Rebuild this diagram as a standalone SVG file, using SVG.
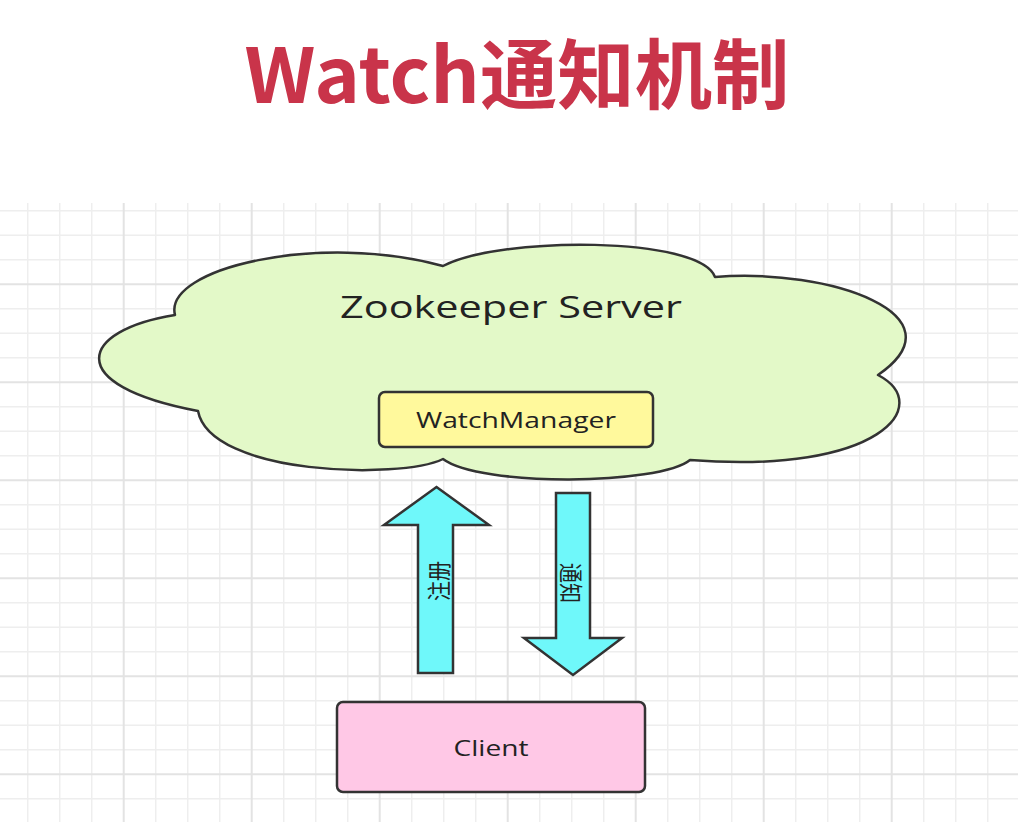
<svg xmlns="http://www.w3.org/2000/svg" width="1018" height="822" viewBox="0 0 1018 822">
<style>
.minor{stroke:#eeeeee;stroke-width:1.5;fill:none}
.major{stroke:#e3e3e3;stroke-width:2;fill:none}
.shape{stroke:#333;stroke-width:2.5;stroke-linejoin:round}
.lbl{font-family:"Open Sans","Noto Sans","Noto Sans CJK SC",sans-serif;fill:#222;text-anchor:middle}
.cjk{font-family:"Noto Sans CJK SC","Noto Sans",sans-serif;fill:#222;text-anchor:middle;dominant-baseline:central}
.arrow{fill:#6ff8fa;stroke:#333;stroke-width:2.5;stroke-linejoin:miter}
</style>
<rect width="1018" height="822" fill="#ffffff"/>
<g id="grid">
<path class="minor" d="M27.7 203V822M59.7 203V822M91.7 203V822M155.7 203V822M187.7 203V822M219.7 203V822M283.7 203V822M315.7 203V822M347.7 203V822M411.7 203V822M443.7 203V822M475.7 203V822M539.7 203V822M571.7 203V822M603.7 203V822M667.7 203V822M699.7 203V822M731.7 203V822M795.7 203V822M827.7 203V822M859.7 203V822M923.7 203V822M955.7 203V822M987.7 203V822M0 210.7H1018M0 235.2H1018M0 259.7H1018M0 308.7H1018M0 333.2H1018M0 357.7H1018M0 406.7H1018M0 431.2H1018M0 455.7H1018M0 504.7H1018M0 529.2H1018M0 553.7H1018M0 602.7H1018M0 627.2H1018M0 651.7H1018M0 700.7H1018M0 725.2H1018M0 749.7H1018M0 798.7H1018"/>
<path class="major" d="M123.7 203V822M251.7 203V822M379.7 203V822M507.7 203V822M635.7 203V822M763.7 203V822M891.7 203V822M0 284.2H1018M0 382.2H1018M0 480.2H1018M0 578.2H1018M0 676.2H1018M0 774.2H1018"/>
</g>
<g id="title">
<text x="517" y="103" font-family="'Noto Sans CJK SC','Noto Sans',sans-serif" font-weight="bold" font-size="76" fill="#c9344a" text-anchor="middle" textLength="545" lengthAdjust="spacingAndGlyphs">Watch通知机制</text>
</g>
<g id="zookeeper-server">
<path class="shape" fill="#e3f9c8" d="M175 315C163 268 320 232 443 266C500 236 700 236 715 277C830 268 965 315 878 375C935 405 880 475 690 460C660 485 480 487 443 459C400 480 210 475 198 411C60 385 80 330 175 315Z"/>
<text class="lbl" x="511" y="318" font-size="31" textLength="342" lengthAdjust="spacingAndGlyphs">Zookeeper Server</text>
</g>
<g id="watchmanager">
<rect class="shape" x="379" y="392" width="274" height="55" rx="6" fill="#fff99c"/>
<text class="lbl" x="516" y="428" font-size="21" fill="#333" textLength="200" lengthAdjust="spacingAndGlyphs">WatchManager</text>
</g>
<g id="client">
<rect class="shape" x="337" y="702" width="308" height="90" rx="6" fill="#ffc8e6"/>
<text class="lbl" x="491" y="756" font-size="21" fill="#333" textLength="75" lengthAdjust="spacingAndGlyphs">Client</text>
</g>
<g id="connectors">
<g id="register">
<polygon class="arrow" points="436.5,487 489,525 453,525 453,673 418,673 418,525 384,525"/>
<text class="cjk" font-size="20" transform="translate(437,581) rotate(-90) scale(1,1.2)">注册</text>
</g>
<g id="notify">
<polygon class="arrow" points="556,493 590,493 590,638 622,638 573,675 524,638 556,638"/>
<text class="cjk" font-size="20" transform="translate(573,583) rotate(90) scale(1,1.2)">通知</text>
</g>
</g>
</svg>
